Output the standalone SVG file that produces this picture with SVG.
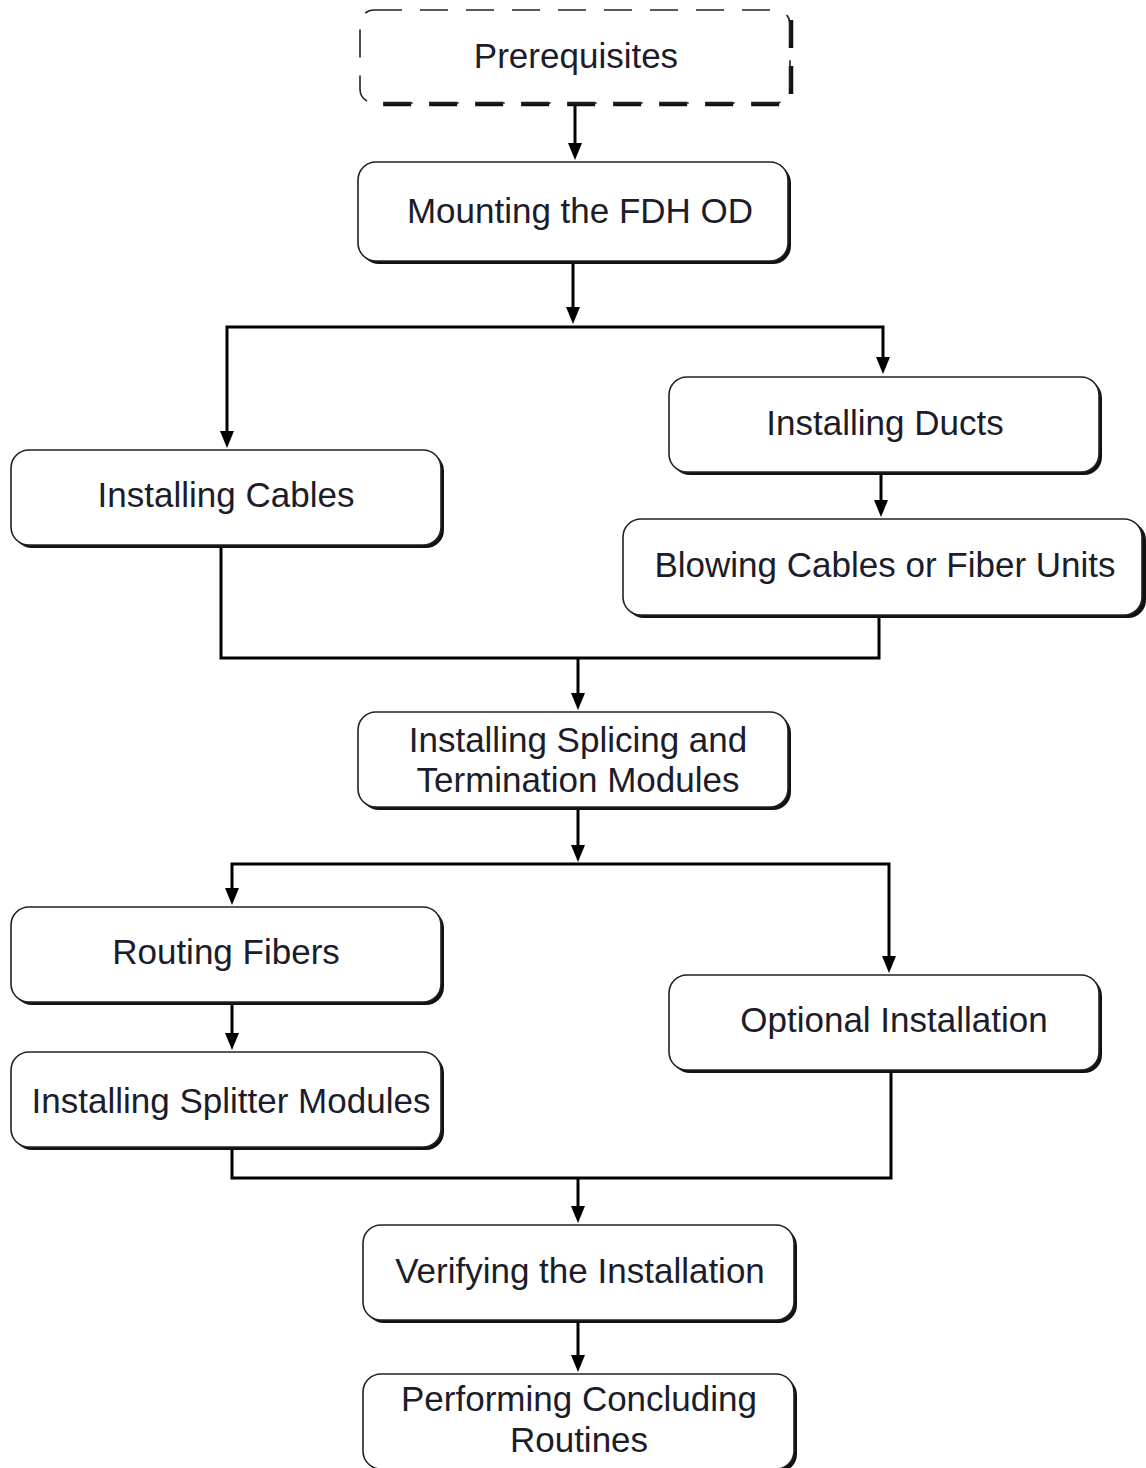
<svg xmlns="http://www.w3.org/2000/svg" width="1146" height="1468" viewBox="0 0 1146 1468">
<style>
.shadow{fill:#111;}
.box{fill:#fff;stroke:#222;stroke-width:1.6;}
.lbl{font-family:"Liberation Sans",Arial,sans-serif;font-size:35px;fill:#1c1c2a;text-anchor:middle;}
.conn{fill:none;stroke:#000;stroke-width:3;}
.head{fill:#000;}
</style>
<defs>
<path id="ah" d="M-7,-17 L7,-17 L0,0 Z"/>
</defs>

<g id="connectors">
<path class="conn" d="M575,106 V146"/>
<use href="#ah" class="head" x="575" y="160"/>
<path class="conn" d="M573,264 V310"/>
<use href="#ah" class="head" x="573" y="324"/>
<path class="conn" d="M227,434 V327 H883 V360"/>
<use href="#ah" class="head" x="227" y="448"/>
<use href="#ah" class="head" x="883" y="374"/>
<path class="conn" d="M881,475 V503"/>
<use href="#ah" class="head" x="881" y="517"/>
<path class="conn" d="M221,548 V658 H879 V618"/>
<path class="conn" d="M578,658 V696"/>
<use href="#ah" class="head" x="578" y="710"/>
<path class="conn" d="M578,810 V848"/>
<use href="#ah" class="head" x="578" y="862"/>
<path class="conn" d="M232,891 V864 H889 V959"/>
<use href="#ah" class="head" x="232" y="905"/>
<use href="#ah" class="head" x="889" y="973"/>
<path class="conn" d="M232,1005 V1036"/>
<use href="#ah" class="head" x="232" y="1050"/>
<path class="conn" d="M232,1150 V1178 H891 V1073"/>
<path class="conn" d="M578,1178 V1209"/>
<use href="#ah" class="head" x="578" y="1223"/>
<path class="conn" d="M578,1323 V1358"/>
<use href="#ah" class="head" x="578" y="1372"/>
</g>

<g id="prerequisites">
<path d="M791,20 V95 Q791,104 780,104 H372" fill="none" stroke="#111" stroke-width="4.5" stroke-dasharray="28 18"/>
<rect x="360" y="10" width="430" height="93" rx="14" fill="none" stroke="#222" stroke-width="1.6" stroke-dasharray="28 18"/>
<text class="lbl" x="576" y="68">Prerequisites</text>
</g>

<g id="mounting">
<rect class="shadow" x="361" y="165" width="430" height="99" rx="18"/>
<rect class="box" x="358" y="162" width="430" height="99" rx="18"/>
<text class="lbl" x="580" y="223">Mounting the FDH OD</text>
</g>

<g id="installing-cables">
<rect class="shadow" x="14" y="453" width="430" height="95" rx="18"/>
<rect class="box" x="11" y="450" width="430" height="95" rx="18"/>
<text class="lbl" x="226" y="507">Installing Cables</text>
</g>

<g id="installing-ducts">
<rect class="shadow" x="672" y="380" width="430" height="95" rx="18"/>
<rect class="box" x="669" y="377" width="430" height="95" rx="18"/>
<text class="lbl" x="885" y="435">Installing Ducts</text>
</g>

<g id="blowing-cables">
<rect class="shadow" x="626" y="522" width="520" height="96" rx="18"/>
<rect class="box" x="623" y="519" width="519" height="96" rx="18"/>
<text class="lbl" x="885" y="577">Blowing Cables or Fiber Units</text>
</g>

<g id="splicing-modules">
<rect class="shadow" x="361" y="715" width="430" height="95" rx="18"/>
<rect class="box" x="358" y="712" width="430" height="95" rx="18"/>
<text class="lbl" x="578" y="752">Installing Splicing and</text>
<text class="lbl" x="578" y="792">Termination Modules</text>
</g>

<g id="routing-fibers">
<rect class="shadow" x="14" y="910" width="430" height="95" rx="18"/>
<rect class="box" x="11" y="907" width="430" height="95" rx="18"/>
<text class="lbl" x="226" y="964">Routing Fibers</text>
</g>

<g id="splitter-modules">
<rect class="shadow" x="14" y="1055" width="430" height="95" rx="18"/>
<rect class="box" x="11" y="1052" width="430" height="95" rx="18"/>
<text class="lbl" x="231" y="1113">Installing Splitter Modules</text>
</g>

<g id="optional-installation">
<rect class="shadow" x="672" y="978" width="430" height="95" rx="18"/>
<rect class="box" x="669" y="975" width="430" height="95" rx="18"/>
<text class="lbl" x="894" y="1032">Optional Installation</text>
</g>

<g id="verifying">
<rect class="shadow" x="366" y="1228" width="431" height="95" rx="18"/>
<rect class="box" x="363" y="1225" width="431" height="95" rx="18"/>
<text class="lbl" x="580" y="1283">Verifying the Installation</text>
</g>

<g id="concluding">
<rect class="shadow" x="366" y="1377" width="431" height="95" rx="18"/>
<rect class="box" x="363" y="1374" width="431" height="95" rx="18"/>
<text class="lbl" x="579" y="1411">Performing Concluding</text>
<text class="lbl" x="579" y="1452">Routines</text>
</g>
</svg>
